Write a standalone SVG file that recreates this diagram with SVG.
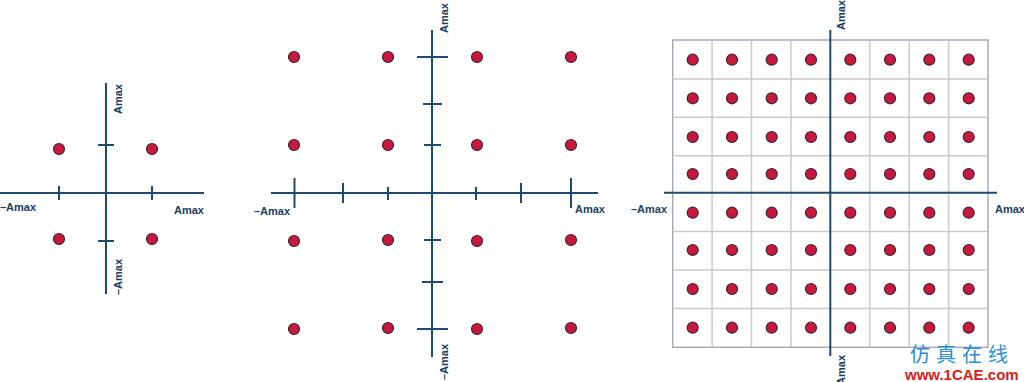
<svg xmlns="http://www.w3.org/2000/svg" width="1024" height="382" viewBox="0 0 1024 382">
<style>
.ax{stroke:#1f4a70;stroke-width:2;fill:none}
.tk{stroke:#1f4a70;stroke-width:2;fill:none}
.gr{stroke:#c9c9d2;stroke-width:1.5;fill:none}
.lb{font-family:"Liberation Sans",Arial,sans-serif;font-weight:bold;font-size:11px;fill:#1c3d63}
.vl{text-anchor:middle}
.wm1{font-family:"Noto Sans CJK SC",sans-serif;font-size:20px;fill:#2b8fd3;letter-spacing:6px}
.wm2{font-family:"Liberation Sans",Arial,sans-serif;font-weight:bold;font-size:15px;fill:#d8201c}
</style>
<defs>
<circle id="dot" r="5.5" fill="#c8183c" stroke="#3b2536" stroke-width="1.2"/>
</defs>
<rect width="1024" height="382" fill="#ffffff"/>

<!-- Left: 4-QAM -->
<g id="qam4">
<g id="qam4-axes">
<line class="ax" x1="0" y1="193" x2="204" y2="193"/>
<line class="ax" x1="106" y1="83" x2="106" y2="294"/>
<line class="tk" x1="59" y1="186" x2="59" y2="200"/>
<line class="tk" x1="152" y1="186" x2="152" y2="200"/>
<line class="tk" x1="98" y1="145" x2="114" y2="145"/>
<line class="tk" x1="98" y1="241" x2="114" y2="241"/>
</g>
<g id="qam4-dots">
<use href="#dot" x="59" y="149"/><use href="#dot" x="152" y="149"/>
<use href="#dot" x="59" y="239"/><use href="#dot" x="152" y="239"/>
</g>
<text class="lb vl" transform="translate(118,99) rotate(-90)" dy="0.36em">Amax</text>
<text class="lb vl" transform="translate(118,277) rotate(-90)" dy="0.36em">–Amax</text>
<text class="lb" x="0" y="211">–Amax</text>
<text class="lb" x="174" y="214">Amax</text>
</g>

<!-- Middle: 16-QAM -->
<g id="qam16">
<g id="qam16-axes">
<line class="ax" x1="271" y1="193" x2="598" y2="193"/>
<line class="ax" x1="432" y1="30" x2="432" y2="357"/>
<line class="tk" x1="294.5" y1="178" x2="294.5" y2="208"/>
<line class="tk" x1="343" y1="183" x2="343" y2="203"/>
<line class="tk" x1="388" y1="187" x2="388" y2="200"/>
<line class="tk" x1="476" y1="187" x2="476" y2="200"/>
<line class="tk" x1="521" y1="183" x2="521" y2="203"/>
<line class="tk" x1="571" y1="178" x2="571" y2="208"/>
<line class="tk" x1="417" y1="57" x2="448" y2="57"/>
<line class="tk" x1="423" y1="104" x2="442" y2="104"/>
<line class="tk" x1="424" y1="145" x2="441" y2="145"/>
<line class="tk" x1="424" y1="240" x2="441" y2="240"/>
<line class="tk" x1="422" y1="282" x2="443" y2="282"/>
<line class="tk" x1="417" y1="329" x2="448" y2="329"/>
</g>
<g id="qam16-dots">
<use href="#dot" x="294" y="57"/><use href="#dot" x="388" y="57"/><use href="#dot" x="477" y="57"/><use href="#dot" x="571" y="57"/>
<use href="#dot" x="294" y="145"/><use href="#dot" x="388" y="145"/><use href="#dot" x="477" y="145"/><use href="#dot" x="571" y="145"/>
<use href="#dot" x="294" y="241"/><use href="#dot" x="388" y="240"/><use href="#dot" x="477" y="241"/><use href="#dot" x="571" y="240"/>
<use href="#dot" x="294" y="329"/><use href="#dot" x="388" y="328"/><use href="#dot" x="477" y="329"/><use href="#dot" x="571" y="328"/>
</g>
<text class="lb vl" transform="translate(444,18) rotate(-90)" dy="0.36em">Amax</text>
<text class="lb vl" transform="translate(444,362) rotate(-90)" dy="0.36em">–Amax</text>
<text class="lb" x="254" y="215">–Amax</text>
<text class="lb" x="575" y="213">Amax</text>
</g>

<!-- Right: 64-QAM -->
<g id="qam64">
<g id="qam64-grid">
<rect x="672.7" y="40" width="315.3" height="307.3" fill="none" stroke="#a9a9b4" stroke-width="1.5"/>
<line class="gr" x1="712.1" y1="40" x2="712.1" y2="347.3"/>
<line class="gr" x1="751.5" y1="40" x2="751.5" y2="347.3"/>
<line class="gr" x1="790.9" y1="40" x2="790.9" y2="347.3"/>
<line class="gr" x1="869.8" y1="40" x2="869.8" y2="347.3"/>
<line class="gr" x1="909.2" y1="40" x2="909.2" y2="347.3"/>
<line class="gr" x1="948.6" y1="40" x2="948.6" y2="347.3"/>
<line class="gr" x1="672.7" y1="78.9" x2="988" y2="78.9"/>
<line class="gr" x1="672.7" y1="117.3" x2="988" y2="117.3"/>
<line class="gr" x1="672.7" y1="155.7" x2="988" y2="155.7"/>
<line class="gr" x1="672.7" y1="231.6" x2="988" y2="231.6"/>
<line class="gr" x1="672.7" y1="270" x2="988" y2="270"/>
<line class="gr" x1="672.7" y1="308.4" x2="988" y2="308.4"/>
</g>
<g id="qam64-axes">
<line class="ax" x1="664" y1="192.7" x2="997" y2="192.7"/>
<line class="ax" x1="830.3" y1="30" x2="830.3" y2="356"/>
</g>
<g id="qam64-dots">
<use href="#dot" x="692.7" y="59.7"/><use href="#dot" x="732" y="59.7"/><use href="#dot" x="771.7" y="59.7"/><use href="#dot" x="811" y="59.7"/><use href="#dot" x="850.3" y="59.7"/><use href="#dot" x="890" y="59.7"/><use href="#dot" x="929.3" y="59.7"/><use href="#dot" x="968.7" y="59.7"/>
<use href="#dot" x="692.7" y="98.3"/><use href="#dot" x="732" y="98.3"/><use href="#dot" x="771.7" y="98.3"/><use href="#dot" x="811" y="98.3"/><use href="#dot" x="850.3" y="98.3"/><use href="#dot" x="890" y="98.3"/><use href="#dot" x="929.3" y="98.3"/><use href="#dot" x="968.7" y="98.3"/>
<use href="#dot" x="692.7" y="137"/><use href="#dot" x="732" y="137"/><use href="#dot" x="771.7" y="137"/><use href="#dot" x="811" y="137"/><use href="#dot" x="850.3" y="137"/><use href="#dot" x="890" y="137"/><use href="#dot" x="929.3" y="137"/><use href="#dot" x="968.7" y="137"/>
<use href="#dot" x="692.7" y="174"/><use href="#dot" x="732" y="174"/><use href="#dot" x="771.7" y="174"/><use href="#dot" x="811" y="174"/><use href="#dot" x="850.3" y="174"/><use href="#dot" x="890" y="174"/><use href="#dot" x="929.3" y="174"/><use href="#dot" x="968.7" y="174"/>
<use href="#dot" x="692.7" y="212.7"/><use href="#dot" x="732" y="212.7"/><use href="#dot" x="771.7" y="212.7"/><use href="#dot" x="811" y="212.7"/><use href="#dot" x="850.3" y="212.7"/><use href="#dot" x="890" y="212.7"/><use href="#dot" x="929.3" y="212.7"/><use href="#dot" x="968.7" y="212.7"/>
<use href="#dot" x="692.7" y="250"/><use href="#dot" x="732" y="250"/><use href="#dot" x="771.7" y="250"/><use href="#dot" x="811" y="250"/><use href="#dot" x="850.3" y="250"/><use href="#dot" x="890" y="250"/><use href="#dot" x="929.3" y="250"/><use href="#dot" x="968.7" y="250"/>
<use href="#dot" x="692.7" y="289"/><use href="#dot" x="732" y="289"/><use href="#dot" x="771.7" y="289"/><use href="#dot" x="811" y="289"/><use href="#dot" x="850.3" y="289"/><use href="#dot" x="890" y="289"/><use href="#dot" x="929.3" y="289"/><use href="#dot" x="968.7" y="289"/>
<use href="#dot" x="692.7" y="327.7"/><use href="#dot" x="732" y="327.7"/><use href="#dot" x="771.7" y="327.7"/><use href="#dot" x="811" y="327.7"/><use href="#dot" x="850.3" y="327.7"/><use href="#dot" x="890" y="327.7"/><use href="#dot" x="929.3" y="327.7"/><use href="#dot" x="968.7" y="327.7"/>
</g>
<text class="lb vl" transform="translate(841,15) rotate(-90)" dy="0.36em">Amax</text>
<text class="lb vl" transform="translate(841,373) rotate(-90)" dy="0.36em">–Amax</text>
<text class="lb" x="631" y="213">–Amax</text>
<text class="lb" x="995" y="213">Amax</text>
</g>

<g id="watermark">
<text class="wm1" x="910" y="362">仿真在线</text>
<text class="wm2" x="905" y="380">www.1CAE.com</text>
</g>
</svg>
